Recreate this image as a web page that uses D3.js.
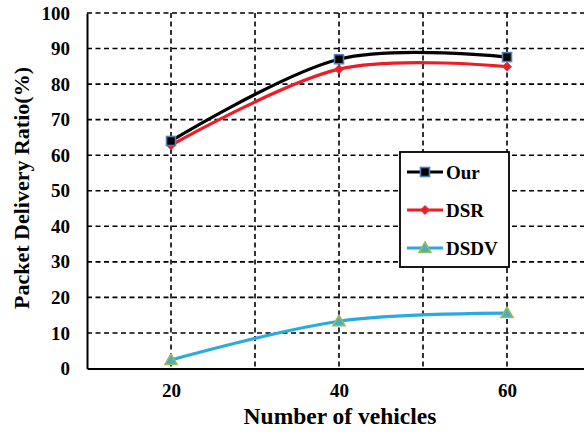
<!DOCTYPE html>
<html>
<head>
<meta charset="utf-8">
<script src="https://cdn.jsdelivr.net/npm/d3@7"></script>
<style>
  html, body { margin: 0; padding: 0; background: #fff; }
  svg { display: block; }
</style>
</head>
<body>
<svg id="chart" width="584" height="432"></svg>
<script>
// Packet delivery ratio vs. number of vehicles
const vehicles = [20, 40, 60];
const ourPDR  = [64, 87, 87.6];
const dsrPDR  = [62.8, 84.2, 84.9];
const dsdvPDR = [2.4, 13.3, 15.6];
const yTicks = [0, 10, 20, 30, 40, 50, 60, 70, 80, 90, 100];
const xTickLabels = [20, 40, 60];
const xGrid = [20, 30, 40, 50, 60];

const series = [
  { name: "Our",  values: ourPDR,  color: "#000000", marker: "square" },
  { name: "DSR",  values: dsrPDR,  color: "#ee1c25", marker: "diamond" },
  { name: "DSDV", values: dsdvPDR, color: "#29aae1", marker: "triangle" }
];

const FONT = '"Liberation Serif", "Times New Roman", Times, serif';

const svg = d3.select("#chart");
const plotL = 87, plotT = 13, plotB = 368.5, plotR = 591;

const x = d3.scaleLinear().domain([10, 70]).range([plotL, plotR]);
const y = d3.scaleLinear().domain([0, 100]).range([plotB, plotT]);

// dashed grid
const grid = svg.append("g").attr("stroke", "#000").attr("stroke-width", 1.6)
  .attr("stroke-dasharray", "5,3.5").attr("fill", "none");
grid.selectAll("line.h").data(yTicks.filter(d => d > 0)).join("line")
  .attr("class", "h")
  .attr("x1", plotL).attr("x2", plotR)
  .attr("y1", d => y(d)).attr("y2", d => y(d));
grid.selectAll("line.v").data(xGrid).join("line")
  .attr("class", "v")
  .attr("x1", d => x(d)).attr("x2", d => x(d))
  .attr("y1", plotT).attr("y2", plotB);

// axes
const yAxis = d3.axisLeft(y).tickValues(yTicks).tickSize(0).tickPadding(17);
const xAxis = d3.axisBottom(x).tickValues(xTickLabels).tickSize(0).tickPadding(15);

const gy = svg.append("g").attr("transform", `translate(${plotL},0)`).call(yAxis);
gy.select(".domain").attr("stroke", "#000").attr("stroke-width", 2);
gy.selectAll("text")
  .style("font-family", FONT).style("font-weight", "bold").style("font-size", "19px")
  .attr("fill", "#000");

const gx = svg.append("g").attr("transform", `translate(0,${plotB})`).call(xAxis);
gx.select(".domain").attr("stroke", "#000").attr("stroke-width", 2);
gx.selectAll("text")
  .style("font-family", FONT).style("font-weight", "bold").style("font-size", "19px")
  .attr("fill", "#000");

// smooth lines
const line = d3.line()
  .x((d, i) => x(vehicles[i]))
  .y(d => y(d))
  .curve(d3.curveCardinal.tension(0));

// draw in order so the black line sits on top
[series[2], series[1], series[0]].forEach(s => {
  svg.append("path").datum(s.values)
    .attr("d", line).attr("fill", "none")
    .attr("stroke", s.color).attr("stroke-width", 3.2)
    .attr("stroke-linejoin", "round");
});

function drawMarker(g, type, cx, cy) {
  if (type === "square") {
    g.append("rect").attr("x", cx - 4.5).attr("y", cy - 4.5)
      .attr("width", 9).attr("height", 9)
      .attr("fill", "#000").attr("stroke", "#4f81bd").attr("stroke-width", 1.6);
  } else if (type === "diamond") {
    g.append("path")
      .attr("d", `M${cx},${cy - 4.5}L${cx + 4.5},${cy}L${cx},${cy + 4.5}L${cx - 4.5},${cy}Z`)
      .attr("fill", "#ee1c25").attr("stroke", "#d93a3a").attr("stroke-width", 1);
  } else {
    g.append("path")
      .attr("d", `M${cx},${cy - 6}L${cx + 6},${cy + 4.5}L${cx - 6},${cy + 4.5}Z`)
      .attr("fill", "#4bacc6").attr("stroke", "#9bbb59").attr("stroke-width", 1.6);
  }
}

const markers = svg.append("g");
[series[2], series[1], series[0]].forEach(s => {
  s.values.forEach((v, i) => drawMarker(markers, s.marker, x(vehicles[i]), y(v)));
});

// axis titles
svg.append("text").attr("x", 340).attr("y", 424)
  .attr("text-anchor", "middle").attr("fill", "#000")
  .style("font-family", FONT).style("font-weight", "bold").style("font-size", "23.5px")
  .text("Number of vehicles");
svg.append("text")
  .attr("transform", `translate(29,188) rotate(-90)`)
  .attr("text-anchor", "middle").attr("fill", "#000")
  .style("font-family", FONT).style("font-weight", "bold").style("font-size", "22px")
  .text("Packet Delivery Ratio(%)");

// legend
const lg = svg.append("g");
lg.append("rect").attr("x", 400).attr("y", 152).attr("width", 109).attr("height", 115)
  .attr("fill", "#fff").attr("stroke", "#000").attr("stroke-width", 1.8);
const legendY = [172, 210, 248];
series.forEach((s, i) => {
  const ly = legendY[i];
  lg.append("line").attr("x1", 407).attr("x2", 443).attr("y1", ly).attr("y2", ly)
    .attr("stroke", s.color).attr("stroke-width", 3.2);
  drawMarker(lg, s.marker, 425, ly);
  lg.append("text").attr("x", 446).attr("y", ly + 6.5)
    .style("font-family", FONT).style("font-weight", "bold").style("font-size", "19px")
    .attr("fill", "#000").text(s.name);
});
</script>
</body>
</html>
